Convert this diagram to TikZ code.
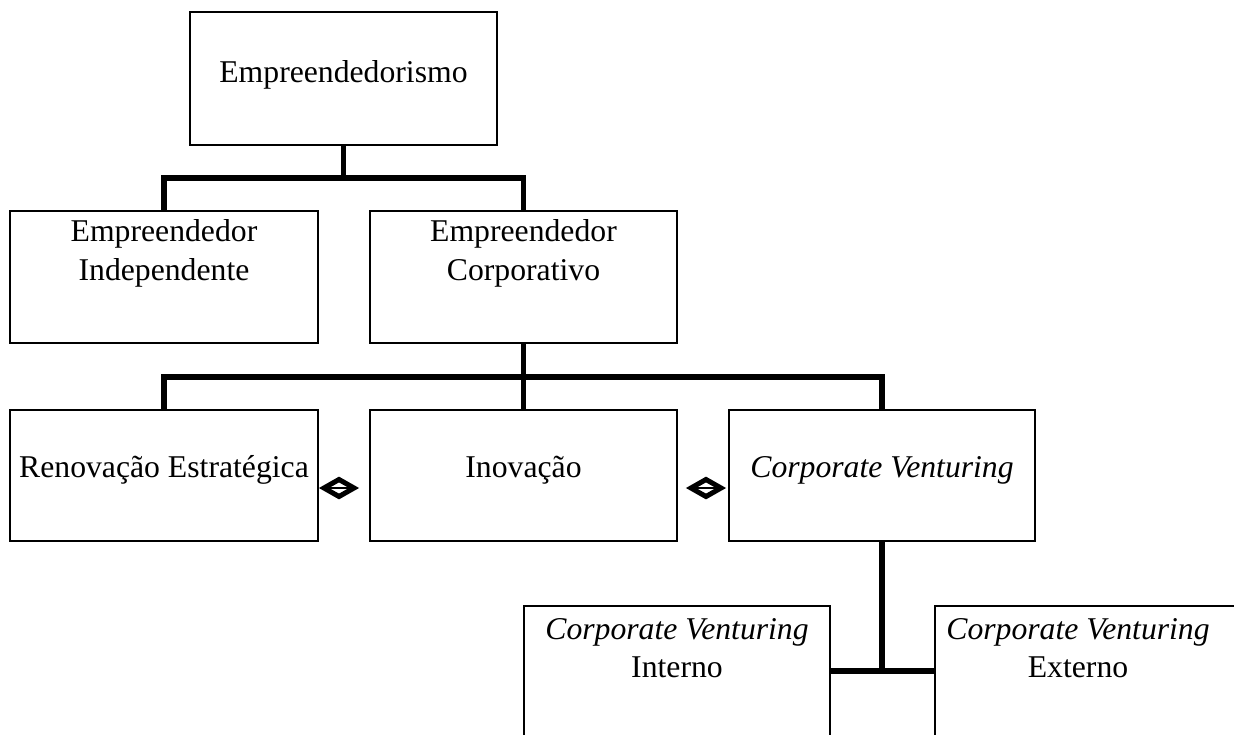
\documentclass[tikz,border=0pt]{standalone}
\usepackage{fontspec}
\setmainfont{Liberation Serif}
\usetikzlibrary{calc}
\begin{document}
\begin{tikzpicture}[x=1pt,y=-1pt,
  box/.style={draw=black,line width=1.8pt,rectangle,inner sep=0pt},
  txt/.style={inner sep=0pt,align=center,font=\fontsize{31.7}{38.5}\selectfont},
  conn/.style={draw=black,line width=5.5pt},
  dia/.style={draw=black,line width=5pt,line join=miter,miter limit=10}]
\useasboundingbox (0,0) rectangle (1234,734);
\clip (0,0) rectangle (1234,734);
% boxes
\node[box,minimum width=307pt,minimum height=133pt] (emp) at (343.5,78.5) {};
\node[box,minimum width=308pt,minimum height=132pt] (ind) at (164,277) {};
\node[box,minimum width=307pt,minimum height=132pt] (cor) at (523.5,277) {};
\node[box,minimum width=308pt,minimum height=131pt] (ren) at (164,475.5) {};
\node[box,minimum width=307pt,minimum height=131pt] (ino) at (523.5,475.5) {};
\node[box,minimum width=306pt,minimum height=131pt] (cv) at (882,475.5) {};
\node[box,minimum width=306pt,minimum height=200pt] (cvi) at (677,706) {};
\node[box,minimum width=320pt,minimum height=200pt] (cve) at (1095,706) {};
% texts
\node[txt] (t1) at (343.5,74.5) {Empreendedorismo};
\node[txt] (t2) at (164,253.5) {Empreendedor\\Independente};
\node[txt] (t3) at (523.5,253.5) {Empreendedor\\Corporativo};
\node[txt] (t4) at (164,470) {Renovação Estratégica};
\node[txt] (t5) at (523.5,470) {Inovação};
\node[txt] (t6) at (882,470) {\itshape Corporate Venturing};
\node[txt] (t7) at (677,648) {{\itshape Corporate Venturing}\\Interno};
\node[txt] (t8) at (1078,648) {{\itshape Corporate Venturing}\\Externo};
% connectors
\coordinate (j1) at (343.5,178);
\coordinate (j2) at (523.5,377);
\coordinate (j3) at (882,671);
\draw[conn] (emp.south) -- (j1);
\draw[conn] (ind.north) |- (j1);
\draw[conn] (cor.north) |- (j1);
\draw[conn] (cor.south) -- (j2);
\draw[conn] (ren.north) |- (j2);
\draw[conn] (ino.north) -- (j2);
\draw[conn] (cv.north) |- (j2);
\draw[conn] (cv.south) -- (j3);
\draw[conn] (cvi.east |- j3) -- (cve.west |- j3);
% diamond symbols
\coordinate (d1) at (339,488);
\coordinate (d2) at (706,488);
\foreach \d in {d1,d2}{
  \draw[dia] ($(\d)+(-15,0)$) -- ($(\d)+(0,-8.5)$) -- ($(\d)+(15,0)$) -- ($(\d)+(0,8.5)$) -- cycle;
  \draw[line width=2.6pt] ($(\d)+(-14,0)$) -- ($(\d)+(14,0)$);
}
\end{tikzpicture}
\end{document}
